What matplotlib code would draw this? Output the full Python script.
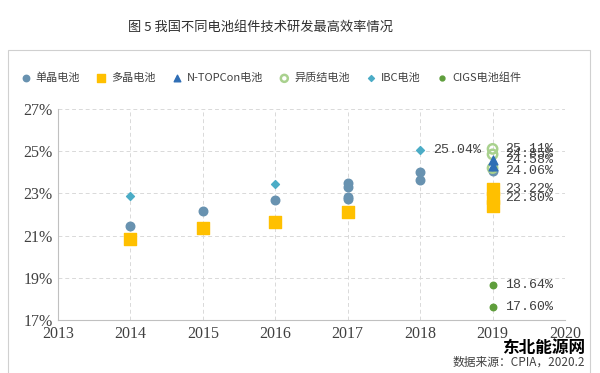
import matplotlib.pyplot as plt
from matplotlib.patches import Rectangle

plt.rcParams['font.family'] = ['Noto Sans CJK SC', 'DejaVu Sans']

# 单晶电池
mono_year = [2014, 2015, 2016, 2017, 2017, 2017, 2017, 2018, 2018, 2019]
mono_eff = [21.45, 22.17, 22.67, 23.48, 23.32, 22.84, 22.72, 24.03, 23.63, 24.06]
# 多晶电池
multi_year = [2014, 2015, 2016, 2017, 2019, 2019, 2019]
multi_eff = [20.82, 21.36, 21.66, 22.13, 23.22, 22.80, 22.40]
# N-TOPCon电池
topcon_year = [2019, 2019]
topcon_eff = [24.58, 24.30]
# 异质结电池
hjt_year = [2019, 2019, 2019]
hjt_eff = [25.11, 24.85, 24.20]
# IBC电池
ibc_year = [2014, 2016, 2018]
ibc_eff = [22.90, 23.46, 25.04]
# CIGS电池组件
cigs_year = [2019, 2019]
cigs_eff = [18.64, 17.60]

labelled = [(2018, 25.04), (2019, 25.11), (2019, 24.85), (2019, 24.58), (2019, 24.06),
            (2019, 23.22), (2019, 22.80), (2019, 18.64), (2019, 17.60)]

fig = plt.figure(figsize=(6, 3.73), dpi=100)
fig.patches.append(Rectangle((8 / 600, -0.01), 582 / 600, 1 - 50 / 373 + 0.01,
                             transform=fig.transFigure, fill=False,
                             edgecolor='#d0d0d0', linewidth=0.8))
ax = fig.add_axes([58 / 600, 1 - 320 / 373, 507 / 600, 211 / 373])

ax.scatter(mono_year, mono_eff, s=38, color='#6892B0', marker='o', label='单晶电池', zorder=3)
ax.scatter(multi_year, multi_eff, s=70, color='#FFC000', marker='s', label='多晶电池', zorder=3)
ax.scatter(topcon_year, topcon_eff, s=40, color='#2F6EB5', marker='^', label='N-TOPCon电池', zorder=5)
ax.scatter(hjt_year, hjt_eff, s=45, facecolors='none', edgecolors='#A9D18E', linewidths=1.8,
           marker='o', label='异质结电池', zorder=4)
ax.scatter(ibc_year, ibc_eff, s=16, color='#4BACC6', marker='D', label='IBC电池', zorder=3)
ax.scatter(cigs_year, cigs_eff, s=22, color='#5F9E3C', marker='o', label='CIGS电池组件', zorder=3)

for x, y in labelled:
    ax.annotate(f'{y:.2f}%', (x, y), xytext=(9, 0), textcoords='offset points',
                va='center', ha='left', fontsize=9.5, color='#404040',
                family=['Liberation Mono', 'DejaVu Sans Mono'])

ax.set_xlim(2013, 2020)
ax.set_ylim(17, 27)
ax.set_xticks(range(2013, 2021))
ax.set_yticks(range(17, 28, 2))
ax.set_yticklabels([f'{v}%' for v in range(17, 28, 2)])
for lab in ax.get_xticklabels() + ax.get_yticklabels():
    lab.set_family(['Liberation Serif'])
    lab.set_fontsize(11.5)
    lab.set_color('#404040')
ax.tick_params(length=0, pad=4)
ax.grid(True, linestyle=(0, (4, 3)), color='#d9d9d9', linewidth=0.7)
ax.set_axisbelow(True)
for side in ['top', 'right']:
    ax.spines[side].set_visible(False)
for side in ['left', 'bottom']:
    ax.spines[side].set_color('#c0c0c0')

fig.text(260 / 600, 1 - 27 / 373, '图 5 我国不同电池组件技术研发最高效率情况',
         ha='center', va='center', fontsize=9.5, color='#303030')

fig.legend(loc='center', bbox_to_anchor=(270 / 600, 1 - 78 / 373), ncol=6, frameon=False,
           fontsize=8, handletextpad=0.3, columnspacing=1.3, markerscale=0.75,
           handlelength=1.2, labelcolor='#404040')

fig.text(585 / 600, 1 - 348 / 373, '东北能源网', ha='right', va='center',
         fontsize=12, fontweight='bold', color='black')
fig.text(585 / 600, 1 - 362 / 373, '数据来源：CPIA，2020.2', ha='right', va='center',
         fontsize=8.5, color='#404040')

fig.savefig('out.png', dpi=100)
